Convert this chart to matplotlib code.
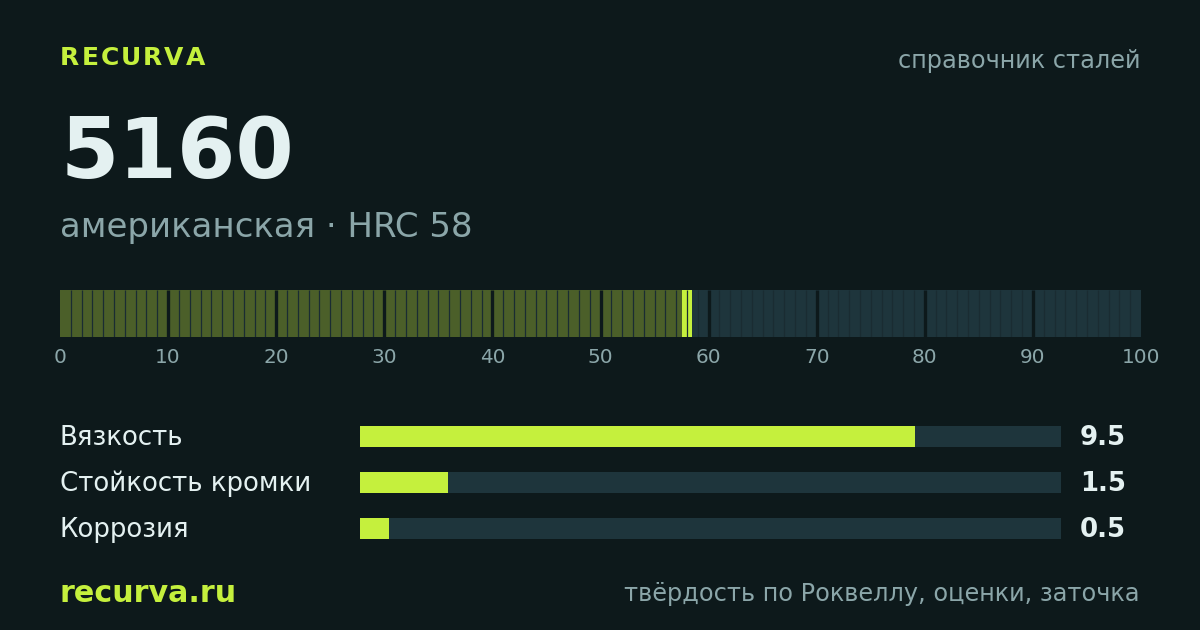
import matplotlib
matplotlib.use("Agg")
import matplotlib.pyplot as plt
import matplotlib.transforms as mtrans
import numpy as np

# ---- data ----
brand = "RECURVA"
header_right = "справочник сталей"
steel_name = "5160"
subtitle = "американская · HRC 58"
hrc_value = 58
hrc_ticks = [0, 10, 20, 30, 40, 50, 60, 70, 80, 90, 100]
metric_names = ["Вязкость", "Стойкость кромки", "Коррозия"]
metric_values = [9.5, 1.5, 0.5]
metric_max = 12
footer_left = "recurva.ru"
footer_right = "твёрдость по Роквеллу, оценки, заточка"

# ---- style ----
BG = "#0d191b"
LIME = "#c5f03d"
OLIVE = "#4b5f29"
TRACK = "#1e353c"
DIVIDER = "#1a2c32"
WHITE = "#e4f1f1"
GRAY = "#8ba6a9"
W, H = 1200, 630

plt.rcParams['font.family'] = ['DejaVu Sans']
fig = plt.figure(figsize=(W / 100, H / 100), dpi=100, facecolor=BG)


def fx(x):
    return x / W


def fy(y):
    return 1 - y / H


def pax(left, top, right, bottom):
    return fig.add_axes([fx(left), fy(bottom), (right - left) / W, (bottom - top) / H])


# brand with letter spacing
renderer = fig.canvas.get_renderer()
x = 60
for ch in brand:
    t = fig.text(fx(x), fy(65), ch, color=LIME, fontsize=18, fontweight='bold',
                 va='baseline', ha='left')
    bb = t.get_window_extent(renderer)
    x += bb.width + 2.0

fig.text(fx(1140), fy(68), header_right, color=GRAY, fontsize=17.3, ha='right', va='baseline')
fig.text(fx(61), fy(178), steel_name, color=WHITE, fontsize=60.5, fontweight='bold',
         ha='left', va='baseline')
fig.text(fx(60), fy(237), subtitle, color=GRAY, fontsize=24.5, ha='left', va='baseline')

# ---- segmented hardness bar ----
ax = pax(60, 290, 1141, 337)
ax.set_facecolor(BG)
segs = np.arange(100)
seg_colors = [OLIVE if s < hrc_value else TRACK for s in segs]
ax.bar(segs, 1, width=1, align='edge', color=seg_colors, linewidth=0)
ax.bar([hrc_value], 1, width=1, align='center', color=LIME, linewidth=0)
minor = [s for s in range(1, 100) if s % 10 != 0]
major = [s for s in range(10, 100, 10)]
ax.vlines(minor, 0, 1, color=DIVIDER, linewidth=0.9)
ax.vlines(major, 0, 1, color=BG, linewidth=2.4)
ax.set_xlim(0, 100)
ax.set_ylim(0, 1)
ax.set_xticks(hrc_ticks)
ax.set_xticklabels([str(t) for t in hrc_ticks])
ax.tick_params(axis='x', length=0, pad=8, labelcolor=GRAY, labelsize=14.4)
ax.set_yticks([])
for s in ax.spines.values():
    s.set_visible(False)

# ---- metric bars ----
bx = pax(360, 413, 1061, 551)
bx.set_facecolor(BG)
ypos = np.arange(len(metric_names))
bx.barh(ypos, [metric_max] * len(ypos), height=21 / 46, color=TRACK, linewidth=0)
bx.barh(ypos, metric_values, height=21 / 46, color=LIME, linewidth=0)
bx.set_xlim(0, metric_max)
bx.set_ylim(len(ypos) - 0.5, -0.5)
bx.axis('off')
tr_left = mtrans.blended_transform_factory(fig.transFigure, bx.transData)
tr_base = mtrans.offset_copy(tr_left, fig=fig, x=0, y=-9, units='dots')
for i, (name, val) in enumerate(zip(metric_names, metric_values)):
    bx.text(fx(60), i, name, transform=tr_base, color=WHITE, fontsize=18.7,
            ha='left', va='baseline')
    bx.text(fx(1080), i, f"{val:.1f}", transform=tr_base, color=WHITE, fontsize=18.7,
            fontweight='bold', ha='left', va='baseline')

fig.text(fx(60), fy(602), footer_left, color=LIME, fontsize=21.7, fontweight='bold',
         ha='left', va='baseline')
fig.text(fx(1140), fy(601), footer_right, color=GRAY, fontsize=17.3, ha='right', va='baseline')

fig.savefig("out.png", dpi=100, facecolor=BG)
